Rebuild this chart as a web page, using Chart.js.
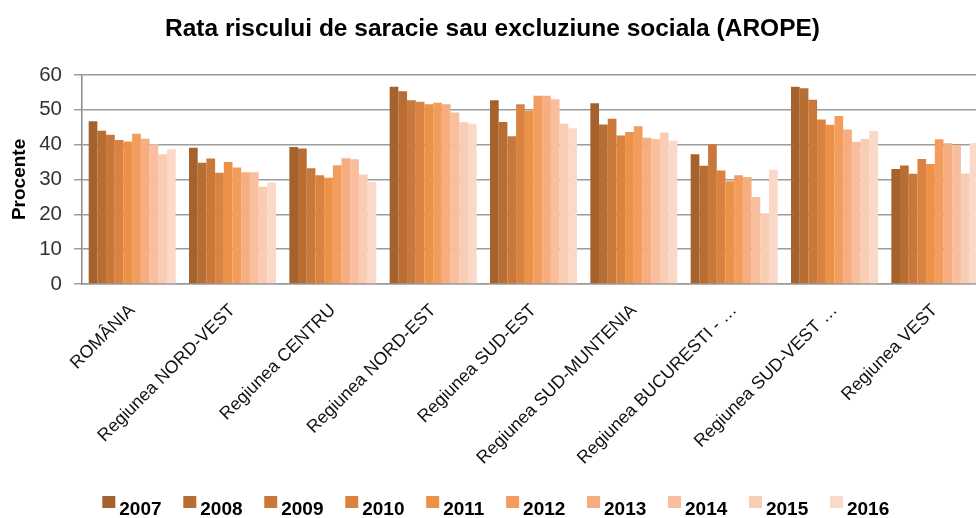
<!DOCTYPE html>
<html>
<head>
<meta charset="utf-8">
<script src="https://cdn.jsdelivr.net/npm/chart.js@4.4.1/dist/chart.umd.min.js"></script>
<style>
  html, body { margin: 0; padding: 0; background: #fff; overflow: hidden; }
  #wrap { width: 976px; height: 518px; overflow: hidden; position: relative; }
  #c { display: block; }
</style>
</head>
<body>
<div id="wrap"><canvas id="c" width="990" height="529" style="width:990px;height:529px"></canvas></div>
<script>
const categories = ['ROMÂNIA', 'Regiunea NORD-VEST', 'Regiunea CENTRU', 'Regiunea NORD-EST', 'Regiunea SUD-EST',
  'Regiunea SUD-MUNTENIA', 'Regiunea BUCURESTI - …', 'Regiunea SUD-VEST …', 'Regiunea VEST'];
const years = ['2007', '2008', '2009', '2010', '2011', '2012', '2013', '2014', '2015', '2016'];
const yTicks = [0, 10, 20, 30, 40, 50, 60];

const v2007 = [46.7, 39.1, 39.3, 56.6, 52.7, 51.9, 37.2, 56.6, 33.0];
const v2008 = [44.0, 34.8, 38.9, 55.3, 46.5, 45.8, 33.9, 56.2, 34.0];
const v2009 = [42.8, 36.0, 33.2, 52.7, 42.4, 47.4, 40.1, 52.9, 31.6];
const v2010 = [41.3, 31.9, 31.2, 52.3, 51.6, 42.6, 32.6, 47.2, 35.9];
const v2011 = [40.9, 35.0, 30.5, 51.6, 49.7, 43.6, 29.5, 45.7, 34.4];
const v2012 = [43.1, 33.4, 34.1, 52.0, 54.0, 45.3, 31.2, 48.2, 41.5];
const v2013 = [41.7, 32.1, 36.1, 51.6, 54.0, 42.0, 30.7, 44.3, 40.4];
const v2014 = [40.1, 32.1, 35.8, 49.2, 53.0, 41.6, 25.0, 40.8, 39.9];
const v2015 = [37.2, 27.9, 31.4, 46.4, 46.0, 43.5, 20.3, 41.6, 31.7];
const v2016 = [38.7, 29.1, 29.3, 46.0, 44.7, 41.1, 32.8, 43.9, 40.4];

const seriesValues = [v2007, v2008, v2009, v2010, v2011, v2012, v2013, v2014, v2015, v2016];
const colors = ['#A6622C', '#B86D33', '#CA783A', '#DA8341', '#EC9247',
                '#F29D5E', '#F6AE80', '#F8BE9E', '#F9CCB4', '#FAD9C8'];

function hasFont(name) {
  const ctx = document.createElement('canvas').getContext('2d');
  const t = 'abcdefghijklmnopqrstuvwxyzABCDEFGHIJ0123456789';
  ctx.font = '40px monospace';
  const a = ctx.measureText(t).width;
  ctx.font = "40px '" + name + "', monospace";
  const b = ctx.measureText(t).width;
  return Math.abs(a - b) > 0.5;
}
const narrowOk = hasFont('Liberation Sans Narrow');
const NF = narrowOk ? "'Liberation Sans Narrow', 'Liberation Sans', Arial, sans-serif" : "'Liberation Sans', Arial, sans-serif";
const k = narrowOk ? 1.22 : 1;
const REG = "'Liberation Sans', Arial, sans-serif";

// legend marker: small square, placed right of centre and above the text's middle line
function legendMarker(color) {
  const cv = document.createElement('canvas');
  cv.width = 27; cv.height = 27;
  const g = cv.getContext('2d');
  g.fillStyle = color;
  g.fillRect(13, 0, 13, 12);
  return cv;
}

const datasets = years.map((y, i) => ({
  label: y,
  data: seriesValues[i],
  backgroundColor: colors[i],
  borderWidth: 0,
  categoryPercentage: 0.867,
  barPercentage: 1.0
}));

new Chart(document.getElementById('c'), {
  type: 'bar',
  data: { labels: categories, datasets },
  options: {
    responsive: false,
    animation: false,
    devicePixelRatio: 1,
    layout: { padding: { left: 0, right: 5, top: 0, bottom: 0 } },
    plugins: {
      tooltip: { enabled: false },
      title: {
        display: true,
        text: 'Rata riscului de saracie sau excluziune sociala (AROPE)',
        color: '#000',
        font: { family: NF, size: 24.5 * k, weight: 'bold' },
        padding: { top: 14.5, bottom: 31 }
      },
      legend: {
        position: 'bottom',
        labels: {
          color: '#000',
          font: { family: NF, size: 19 * k, weight: 'bold' },
          usePointStyle: true,
          pointStyleWidth: 14,
          boxHeight: 12,
          padding: 15.2,
          generateLabels: (chart) => chart.data.datasets.map((ds, i) => ({
            text: ds.label,
            fillStyle: ds.backgroundColor,
            strokeStyle: ds.backgroundColor,
            lineWidth: 0,
            pointStyle: legendMarker(ds.backgroundColor),
            fontColor: '#000',
            hidden: false,
            datasetIndex: i
          }))
        }
      }
    },
    scales: {
      x: {
        grid: { display: false },
        border: { display: true, color: '#9a9a9a', width: 1.5 },
        ticks: {
          autoSkip: false,
          maxRotation: 45,
          minRotation: 45,
          color: '#111',
          font: { family: REG, size: 17.8 },
          padding: 8
        },
        afterFit: (s) => { s.height = 200.8; }
      },
      y: {
        min: 0,
        max: 60,
        afterBuildTicks: (s) => { s.ticks = yTicks.map(v => ({ value: v })); },
        grid: { color: '#9c9c9c', lineWidth: 1.5, tickLength: 8 },
        border: { display: true, color: '#8a8a8a', width: 1.5 },
        ticks: {
          color: '#333',
          font: { family: NF, size: 20.5 * k },
          padding: 12
        },
        title: {
          display: true,
          text: 'Procente',
          color: '#000',
          font: { family: NF, size: 19 * k, weight: 'bold' },
          padding: { top: 8, bottom: 4 }
        },
        afterFit: (s) => { s.width = 82; }
      }
    }
  }
});
</script>
</body>
</html>
